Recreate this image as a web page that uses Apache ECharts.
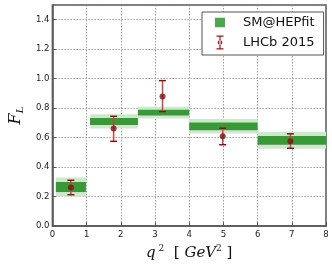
<!DOCTYPE html>
<html>
<head>
<meta charset="utf-8">
<script src="https://cdn.jsdelivr.net/npm/echarts@6/dist/echarts.min.js"></script>
<style>html,body{margin:0;padding:0;background:#fff}#c{width:332px;height:266px}</style>
</head>
<body>
<div id="c"></div>
<script>
// Bins in q^2 (GeV^2)
var binStart = [0.1, 1.1, 2.5, 4.0, 6.0];
var binEnd   = [0.98, 2.5, 4.0, 6.0, 8.0];
// SM@HEPfit prediction: central value, 1-sigma and 2-sigma half widths
var smCenter = [0.265, 0.710, 0.770, 0.677, 0.582];
var smErr1   = [0.034, 0.024, 0.020, 0.026, 0.030];
var smErr2   = [0.065, 0.048, 0.040, 0.049, 0.058];
// LHCb 2015 measurement
var lhcbX      = [0.54, 1.79, 3.22, 4.98, 6.96];
var lhcbY      = [0.262, 0.662, 0.879, 0.609, 0.575];
var lhcbErrUp  = [0.049, 0.083, 0.108, 0.055, 0.051];
var lhcbErrDn  = [0.049, 0.087, 0.102, 0.057, 0.047];

var outerBand = binStart.map(function (s, i) { return [s, binEnd[i], smCenter[i] - smErr2[i], smCenter[i] + smErr2[i]]; });
var innerBand = binStart.map(function (s, i) { return [s, binEnd[i], smCenter[i] - smErr1[i], smCenter[i] + smErr1[i]]; });
var errData = lhcbX.map(function (x, i) { return [x, lhcbY[i] - lhcbErrDn[i], lhcbY[i] + lhcbErrUp[i]]; });
var ptData = lhcbX.map(function (x, i) { return [x, lhcbY[i]]; });

function bandRender(color) {
  return function (params, api) {
    var p1 = api.coord([api.value(0), api.value(3)]);
    var p2 = api.coord([api.value(1), api.value(2)]);
    return {
      type: 'rect',
      shape: { x: p1[0], y: p1[1], width: p2[0] - p1[0], height: p2[1] - p1[1] },
      style: { fill: color }
    };
  };
}

var chart = echarts.init(document.getElementById('c'), null, { renderer: 'canvas' });
var serif = 'DejaVu Serif';
chart.setOption({
  animation: false,
  grid: { left: 39, right: 6, top: 5, bottom: 38, show: true, borderColor: '#555', borderWidth: 1.5, backgroundColor: 'transparent' },
  legend: {
    orient: 'vertical',
    left: 202, top: 12,
    padding: [3, 9, 5, 13],
    itemWidth: 10, itemHeight: 14, itemGap: 5,
    borderColor: '#555', borderWidth: 1,
    backgroundColor: '#fff',
    selectedMode: false,
    textStyle: { fontFamily: 'DejaVu Sans', fontSize: 13, lineHeight: 15, color: '#111', padding: [0, 0, 0, 13] },
    data: [
      { name: 'SM@HEPfit', icon: 'path://M0,0h10v9.5h-10z', itemStyle: { color: '#4aa84a' } },
      { name: 'LHCb 2015', icon: 'path://M0,0h7v1.3h-7zM0,12.7h7v1.3h-7zM2.9,1h1.2v12h-1.2zM1.2,7a2.3,2.3 0 1,0 4.6,0a2.3,2.3 0 1,0 -4.6,0z', itemStyle: { color: '#a01515' } }
    ]
  },
  xAxis: {
    type: 'value', min: 0, max: 8, interval: 1,
    axisLine: { show: true, lineStyle: { color: '#555', width: 1.5 } },
    axisTick: { show: true, inside: true, length: 4, lineStyle: { color: '#555' } },
    axisLabel: { fontFamily: 'DejaVu Sans', fontSize: 8.5, color: '#222', margin: 4 },
    splitLine: { show: true, lineStyle: { color: '#888', type: [1.5, 1.5], width: 0.8 } },
    name: '{i|q}{sup|2}{n|  [ }{i|GeV}{sup2|2}{n| ]}',
    nameLocation: 'middle', nameGap: 17,
    nameTextStyle: {
      rich: {
        i: { fontFamily: serif, fontStyle: 'italic', fontSize: 15, color: '#111' },
        sup: { fontFamily: serif, fontSize: 9, color: '#111', verticalAlign: 'top', padding: [0, 0, 10, 3] },
        sup2: { fontFamily: serif, fontSize: 9, color: '#111', verticalAlign: 'top', padding: [0, 0, 10, 0] },
        n: { fontFamily: serif, fontSize: 15, color: '#111' }
      }
    }
  },
  yAxis: {
    type: 'value', min: 0, max: 1.5, interval: 0.2,
    axisLine: { show: true, lineStyle: { color: '#555', width: 1.5 } },
    axisTick: { show: true, inside: true, length: 4, lineStyle: { color: '#555' } },
    axisLabel: { fontFamily: 'DejaVu Sans', fontSize: 8.5, color: '#222', margin: 3, showMaxLabel: false,
      formatter: function (v) { return v.toFixed(1); } },
    splitLine: { show: true, lineStyle: { color: '#888', type: [1.5, 1.5], width: 0.8 } },
    name: '{i|F}{s|L}',
    nameLocation: 'middle', nameGap: 24, nameRotate: 90,
    nameTextStyle: {
      rich: {
        i: { fontFamily: serif, fontStyle: 'italic', fontSize: 16, color: '#111' },
        s: { fontFamily: serif, fontStyle: 'italic', fontSize: 10, color: '#111', verticalAlign: 'bottom', padding: [8, 0, 0, 0] }
      }
    }
  },
  series: [
    { name: 'SM 2sigma', type: 'custom', renderItem: bandRender('#cde8cd'), data: outerBand,
      encode: { x: [0, 1], y: [2, 3] }, z: 2, silent: true },
    { name: 'SM@HEPfit', type: 'custom', renderItem: bandRender('#379a37'), data: innerBand,
      encode: { x: [0, 1], y: [2, 3] }, z: 3, silent: true, itemStyle: { color: '#4aa84a' } },
    { name: 'LHCb 2015', type: 'custom', data: errData, encode: { x: 0, y: [1, 2] }, z: 4, silent: true,
      itemStyle: { color: '#a01515' },
      renderItem: function (params, api) {
        var lo = api.coord([api.value(0), api.value(1)]);
        var hi = api.coord([api.value(0), api.value(2)]);
        var w = 3.5;
        return {
          type: 'group',
          children: [
            { type: 'line', shape: { x1: lo[0], y1: lo[1], x2: hi[0], y2: hi[1] }, style: { stroke: '#c24848', lineWidth: 1.5 } },
            { type: 'line', shape: { x1: lo[0] - w, y1: lo[1], x2: lo[0] + w, y2: lo[1] }, style: { stroke: '#8e1010', lineWidth: 1.5 } },
            { type: 'line', shape: { x1: hi[0] - w, y1: hi[1], x2: hi[0] + w, y2: hi[1] }, style: { stroke: '#8e1010', lineWidth: 1.5 } }
          ]
        };
      } },
    { name: 'LHCb 2015', type: 'scatter', data: ptData, symbol: 'circle', symbolSize: 6, z: 5,
      itemStyle: { color: '#8b0c0c' }, silent: true }
  ]
});
</script>
</body>
</html>
